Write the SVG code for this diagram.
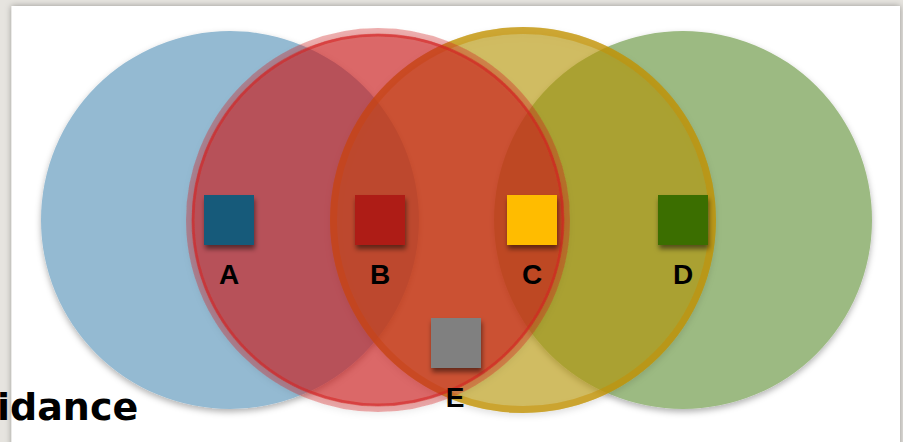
<svg xmlns="http://www.w3.org/2000/svg" width="903" height="442" viewBox="0 0 903 442">
  <defs>
    <filter id="slideShadow" x="-5%" y="-5%" width="110%" height="110%">
      <feDropShadow dx="0" dy="0" stdDeviation="3" flood-color="#000" flood-opacity="0.35"/>
    </filter>
    <filter id="circleShadow" x="-10%" y="-10%" width="120%" height="120%">
      <feDropShadow dx="0" dy="3" stdDeviation="3" flood-color="#000" flood-opacity="0.3"/>
    </filter>
    <filter id="lightShadow" x="-10%" y="-10%" width="120%" height="120%">
      <feDropShadow dx="0" dy="3" stdDeviation="3" flood-color="#000" flood-opacity="0.15"/>
    </filter>
    <filter id="squareShadow" x="-30%" y="-30%" width="160%" height="160%">
      <feDropShadow dx="1" dy="4" stdDeviation="2.5" flood-color="#000" flood-opacity="0.5"/>
    </filter>
  </defs>
  <style>
    .label { font-family: "Liberation Sans", Arial, sans-serif; font-weight: bold; font-size: 28px; fill: #000; text-anchor: middle; }
    .title { font-family: "DejaVu Sans", "Liberation Sans", sans-serif; font-weight: bold; font-size: 38px; fill: #000; }
    .sq { filter: url(#squareShadow); }
  </style>

  <!-- slide background -->
  <rect x="0" y="0" width="903" height="442" fill="#e6e4df"/>
  <rect x="11.5" y="6" width="888.5" height="446" fill="#ffffff" filter="url(#slideShadow)"/>

  <!-- circles -->
  <g id="circle-blue" filter="url(#circleShadow)">
    <circle cx="230" cy="220" r="189" fill="#94bad2"/>
  </g>
  <g id="circle-green" filter="url(#circleShadow)">
    <circle cx="683" cy="220" r="189" fill="#9cba82"/>
  </g>
  <g id="circle-yellow" filter="url(#lightShadow)">
    <circle cx="523" cy="220" r="193" fill="#b99600" fill-opacity="0.58"/>
    <circle cx="523" cy="220" r="189.5" fill="none" stroke="#c89000" stroke-opacity="0.5" stroke-width="7"/>
  </g>
  <g id="circle-red" filter="url(#lightShadow)">
    <circle cx="378" cy="220" r="189" fill="none" stroke="#ce211c" stroke-opacity="0.35" stroke-width="6"/>
    <circle cx="378" cy="220" r="186" fill="#ce211c" fill-opacity="0.63"/>
    <circle cx="378" cy="220" r="185" fill="none" stroke="#d42020" stroke-opacity="0.55" stroke-width="3"/>
  </g>

  <!-- items -->
  <g id="node-A">
    <rect class="sq" x="204" y="195" width="50" height="50" fill="#185a7a"/>
    <text class="label" x="229" y="284">A</text>
  </g>
  <g id="node-B">
    <rect class="sq" x="355" y="195" width="50" height="50" fill="#ae1a16"/>
    <text class="label" x="380" y="284">B</text>
  </g>
  <g id="node-C">
    <rect class="sq" x="507" y="195" width="50" height="50" fill="#ffbc00"/>
    <text class="label" x="532" y="284">C</text>
  </g>
  <g id="node-D">
    <rect class="sq" x="658" y="195" width="50" height="50" fill="#3a6e00"/>
    <text class="label" x="683" y="284">D</text>
  </g>
  <g id="node-E">
    <rect class="sq" x="431" y="318" width="50" height="50" fill="#808080"/>
    <text class="label" x="455" y="407">E</text>
  </g>

  <g id="connectors"></g>

  <text class="title" x="-3" y="420">idance</text>
</svg>
